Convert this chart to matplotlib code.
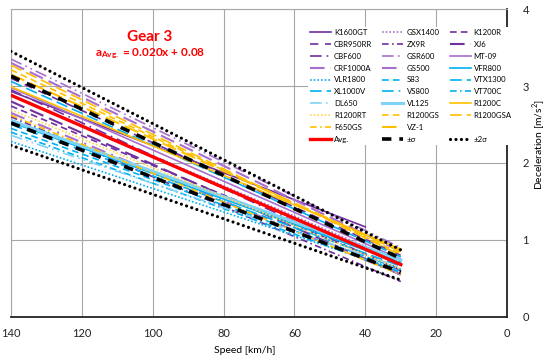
import matplotlib
matplotlib.use("Agg")
import matplotlib.pyplot as plt
from matplotlib.lines import Line2D

plt.rcParams['font.family'] = ['Lato', 'DejaVu Sans']
plt.rcParams['mathtext.fontset'] = 'custom'
plt.rcParams['mathtext.rm'] = 'Lato'
plt.rcParams['mathtext.bf'] = 'Lato:bold'

# colours
PURPLE = '#7030A0'
LPURPLE = '#A96FD0'
CYAN = '#00B0F0'
LCYAN = '#7FD3F7'
ORANGE = '#FFC000'
LORANGE = '#FFD54F'

# bike series: name, speed range [start, end] (km/h), deceleration at start/end (m/s^2)
bikes = ['K1600GT', 'GSX1400', 'K1200R', 'CBR950RR', 'ZX9R', 'XJ6', 'CBF600', 'GSR600',
         'MT-09', 'CRF1000A', 'GS500', 'VFR800', 'VLR1800', 'S83', 'VTX1300', 'XL1000V',
         'VS800', 'VT700C', 'DL650', 'VL125', 'R1200C', 'R1200RT', 'R1200GS', 'R1200GSA',
         'F650GS', 'VZ-1']
speed_start = [140, 140, 140, 140, 140, 140, 140, 140, 140, 140, 140, 140, 140,
               140, 140, 140, 140, 140, 140, 140, 140, 140, 140, 140, 140, 140]
speed_end = [40, 30, 30, 30, 30, 30, 30, 30, 30, 30, 30, 30, 30,
             30, 30, 30, 30, 30, 30, 30, 30, 30, 30, 30, 30, 30]
decel_start = [2.93, 2.88, 2.74, 3.10, 2.60, 2.80, 2.95, 3.35, 2.98, 3.30, 2.65, 2.53, 2.28,
               2.45, 3.06, 2.50, 2.56, 2.40, 2.36, 2.55, 2.99, 2.69, 3.21, 3.27, 2.62, 3.15]
decel_end = [1.17, 0.72, 0.62, 0.80, 0.46, 0.55, 0.60, 0.90, 0.75, 0.85, 0.55, 0.70, 0.60,
             0.62, 0.78, 0.66, 0.72, 0.58, 0.64, 0.74, 0.88, 0.62, 0.82, 0.80, 0.55, 0.85]

# average and spread lines (speed 140 -> 30)
band_speed = [140, 30]
avg_decel = [2.88, 0.68]
sigma_up = [3.13, 0.76]
sigma_lo = [2.52, 0.58]
sigma2_up = [3.45, 0.87]
sigma2_lo = [2.23, 0.48]

dot = (0, (1, 1.2))
dash = (0, (4, 2.5))
dashdot = (0, (4, 2, 1, 2))
longdash = (0, (7, 3))
longdashdot = (0, (7, 3, 1, 3))
longdashdotdot = (0, (7, 2.5, 1, 2.5, 1, 2.5))

styles = [
    (PURPLE, '-', 1.2), (LPURPLE, dot, 1.2), (PURPLE, dash, 1.2), (PURPLE, (0, (5, 4)), 1.2),
    (PURPLE, dashdot, 1.2), (PURPLE, longdash, 1.5), (PURPLE, longdashdot, 1.2),
    (LPURPLE, longdashdotdot, 1.2), (LPURPLE, '-', 1.2), (LPURPLE, longdash, 1.5),
    (LPURPLE, longdashdot, 1.5), (CYAN, '-', 1.2), (CYAN, dot, 1.2), (CYAN, dash, 1.2),
    (CYAN, longdash, 1.2), (CYAN, longdash, 1.2), (CYAN, longdashdot, 1.2),
    (CYAN, dashdot, 1.2), (LCYAN, longdashdotdot, 1.2), (LCYAN, '-', 2.2),
    (ORANGE, '-', 1.2), (LORANGE, dot, 1.2), (ORANGE, dash, 1.2), (ORANGE, longdash, 1.2),
    (ORANGE, dashdot, 1.2), (ORANGE, longdash, 1.5),
]

fig = plt.figure(figsize=(5.5, 3.61), dpi=100)
ax = fig.add_axes([0.02, 0.122, 0.902, 0.853])

handles = []
for i, name in enumerate(bikes):
    c, ls, lw = styles[i]
    h, = ax.plot([speed_start[i], speed_end[i]], [decel_start[i], decel_end[i]],
                 color=c, linestyle=ls, linewidth=lw, label=name, zorder=3)
    handles.append(h)

h_avg, = ax.plot(band_speed, avg_decel, color='red', lw=2.4, label='Avg.', zorder=5)
sig_kw = dict(color='black', lw=2.6, linestyle=(0, (2.6, 2.2)), zorder=6)
h_sig, = ax.plot(band_speed, sigma_up, label='±σ', **sig_kw)
ax.plot(band_speed, sigma_lo, **sig_kw)
dot_kw = dict(color='black', lw=2.3, linestyle=(0, (0.01, 1.7)), dash_capstyle='round', zorder=6)
h_sig2, = ax.plot(band_speed, sigma2_up, label='±2σ', **dot_kw)
ax.plot(band_speed, sigma2_lo, **dot_kw)

blank = Line2D([], [], linestyle='none', label=' ')
entries = handles[:24] + [handles[24], handles[25], blank, h_avg, h_sig, h_sig2]
# legend is filled row by row, matplotlib fills columns
rows = [entries[r * 3:(r + 1) * 3] for r in range(10)]
ordered = [rows[r][c] for c in range(3) for r in range(10)]
leg = ax.legend(handles=ordered, labels=[h.get_label() for h in ordered], ncol=3,
                loc='upper left', bbox_to_anchor=(0.59, 0.955), fontsize=5.6,
                frameon=True, fancybox=False, edgecolor='none', facecolor='white',
                framealpha=1, handlelength=2.7, handletextpad=0.4, columnspacing=1.3,
                labelspacing=0.62, borderpad=0.3)
leg.set_zorder(10)

ax.set_xlim(140, 0)
ax.set_ylim(0, 4)
ax.set_xticks(range(0, 141, 20))
ax.set_yticks(range(0, 5))
ax.grid(True, color='#A6A6A6', linewidth=0.8)
ax.set_axisbelow(True)
ax.yaxis.tick_right()
ax.tick_params(length=0, labelsize=8, colors='#222222')
ax.tick_params(axis='y', pad=11)
ax.tick_params(axis='x', pad=8)
for s in ['left', 'top']:
    ax.spines[s].set_color('#A6A6A6')
    ax.spines[s].set_linewidth(0.8)
for s in ['right', 'bottom']:
    ax.spines[s].set_color('#222222')
    ax.spines[s].set_linewidth(1.3)

ax.set_xlabel('Speed [km/h]', fontsize=7.5)
ax.xaxis.set_label_coords(0.472, -0.093)
ax.yaxis.set_label_position('right')
ax.set_ylabel('Deceleration [m/s$^2$]', fontsize=7.5, rotation=90)
ax.yaxis.set_label_coords(1.048, 0.56)

ax.text(0.28, 0.91, 'Gear 3', transform=ax.transAxes, color='red', fontsize=11,
        fontweight='bold', ha='center', va='center')
ax.text(0.28, 0.855, r'$\mathbf{a_{Avg.}}$ = 0.020x + 0.08', transform=ax.transAxes,
        color='red', fontsize=8.5, fontweight='bold', ha='center', va='center')

fig.savefig('out.png', dpi=100)
